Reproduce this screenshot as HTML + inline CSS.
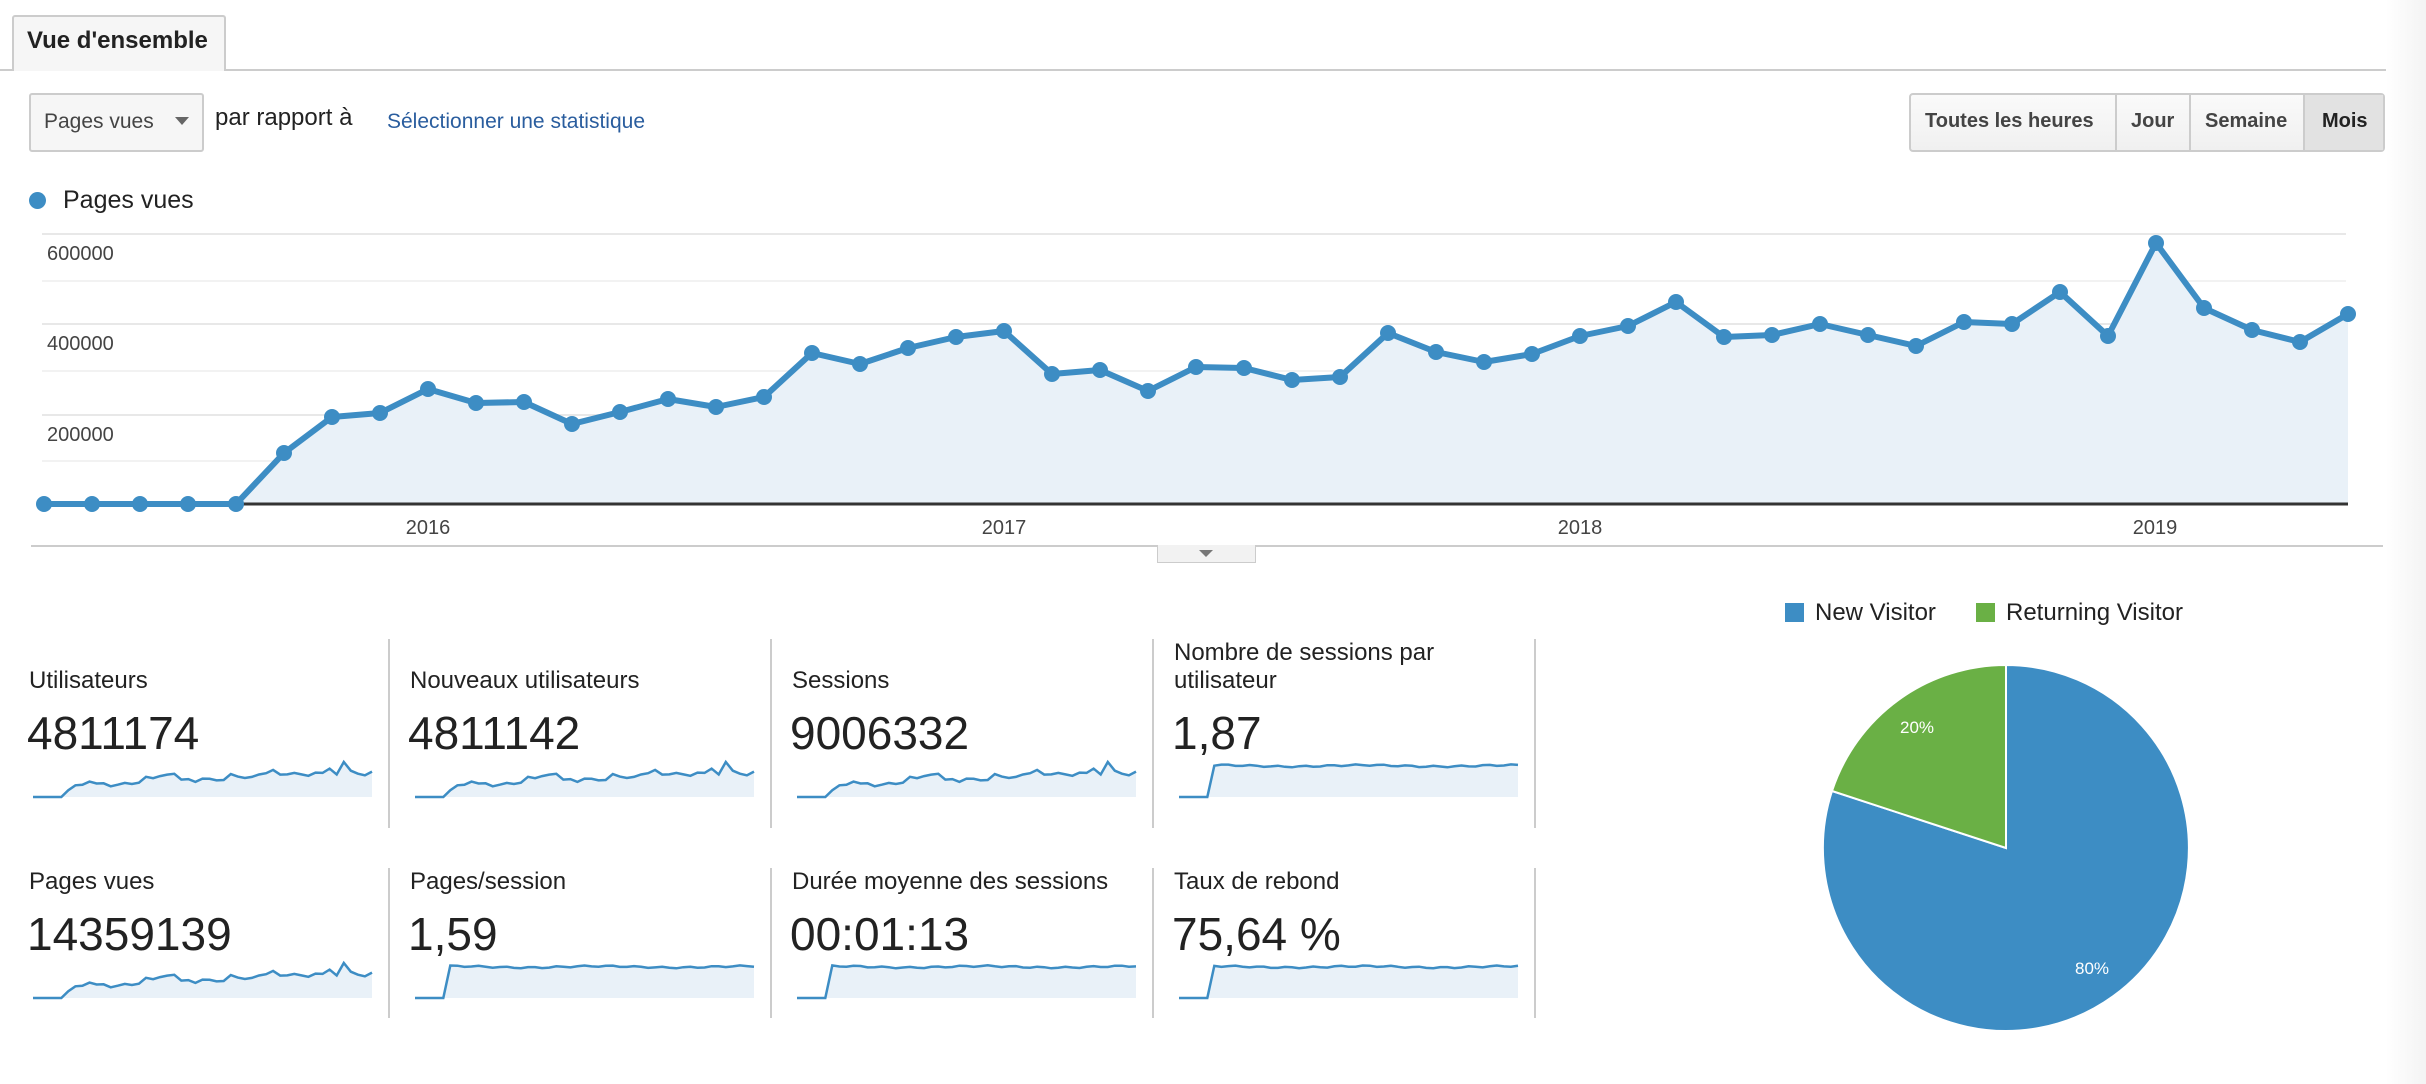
<!DOCTYPE html>
<html><head><meta charset="utf-8">
<style>
body{margin:0;width:2426px;height:1084px;background:#fff;font-family:"Liberation Sans",Arial,sans-serif;position:relative;overflow:hidden;color:#222}
.a{position:absolute;white-space:nowrap}
.lbl{font-size:24px;color:#222}
.num{font-size:46px;color:#222}
.div{position:absolute;width:2px;background:#ccc}
</style></head><body>
<div class="a" style="left:0;top:69px;width:2426px;height:2px;background:#ccc"></div>
<div class="a" style="left:12px;top:15px;width:214px;height:56px;background:#f6f6f6;border:2px solid #ccc;border-bottom:none;border-radius:3px 3px 0 0;box-sizing:border-box"></div>
<div class="a" style="left:27px;top:27px;font-size:24px;font-weight:bold;color:#222">Vue d'ensemble</div>

<div class="a" style="left:29px;top:93px;width:175px;height:59px;border:2px solid #ccc;border-radius:3px;background:#f6f6f6;box-sizing:border-box"></div>
<div class="a" style="left:44px;top:110px;font-size:21px;color:#444">Pages vues</div>
<div class="a" style="left:175px;top:117px;width:0;height:0;border-left:7px solid transparent;border-right:7px solid transparent;border-top:8px solid #666"></div>
<div class="a" style="left:215px;top:104px;font-size:24px;color:#222">par rapport à</div>
<div class="a" style="left:387px;top:110px;font-size:21px;color:#2a5d9e">Sélectionner une statistique</div>

<div class="a" style="left:1909px;top:93px;width:476px;height:59px;border:2px solid #ccc;border-radius:4px;background:linear-gradient(#fafafa,#f0f0f0);box-sizing:border-box"></div>
<div class="a" style="left:2305px;top:95px;width:78px;height:55px;background:#e2e2e2"></div>
<div class="a" style="left:2115px;top:95px;width:2px;height:55px;background:#ccc"></div>
<div class="a" style="left:2189px;top:95px;width:2px;height:55px;background:#ccc"></div>
<div class="a" style="left:2303px;top:95px;width:2px;height:55px;background:#ccc"></div>
<div class="a" style="left:1925px;top:110px;font-size:20px;font-weight:bold;color:#444">Toutes les heures</div>
<div class="a" style="left:2131px;top:110px;font-size:20px;font-weight:bold;color:#444">Jour</div>
<div class="a" style="left:2205px;top:110px;font-size:20px;font-weight:bold;color:#444">Semaine</div>
<div class="a" style="left:2322px;top:110px;font-size:20px;font-weight:bold;color:#222">Mois</div>

<div class="a" style="left:29px;top:192px;width:17px;height:17px;border-radius:50%;background:#3d8dc4"></div>
<div class="a" style="left:63px;top:186px;font-size:25px;color:#222">Pages vues</div>

<svg class="a" style="left:0;top:0" width="2426" height="1084" id="main"></svg>

<div class="a" style="left:31px;top:545px;width:2352px;height:2px;background:#ccc"></div>
<div class="a" style="left:1157px;top:545px;width:99px;height:18px;background:#f2f2f2;border:1px solid #ccc;border-top:none;box-sizing:border-box"></div>
<div class="a" style="left:1199px;top:550px;width:0;height:0;border-left:7px solid transparent;border-right:7px solid transparent;border-top:7px solid #777"></div>
<div class="a" style="left:2386px;top:0;width:40px;height:1084px;background:linear-gradient(90deg,#fff,#f3f3f3)"></div>

<div class="a lbl" style="left:29px;top:667px">Utilisateurs</div>
<div class="a num" style="left:27px;top:706px">4811174</div>
<div class="a lbl" style="left:410px;top:667px">Nouveaux utilisateurs</div>
<div class="a num" style="left:408px;top:706px">4811142</div>
<div class="a lbl" style="left:792px;top:667px">Sessions</div>
<div class="a num" style="left:790px;top:706px">9006332</div>
<div class="a lbl" style="left:1174px;top:639px;line-height:28px">Nombre de sessions par<br>utilisateur</div>
<div class="a num" style="left:1172px;top:706px">1,87</div>

<div class="a lbl" style="left:29px;top:868px">Pages vues</div>
<div class="a num" style="left:27px;top:907px">14359139</div>
<div class="a lbl" style="left:410px;top:868px">Pages/session</div>
<div class="a num" style="left:408px;top:907px">1,59</div>
<div class="a lbl" style="left:792px;top:868px">Durée moyenne des sessions</div>
<div class="a num" style="left:790px;top:907px">00:01:13</div>
<div class="a lbl" style="left:1174px;top:868px">Taux de rebond</div>
<div class="a num" style="left:1172px;top:907px">75,64 %</div>

<div class="div" style="left:388px;top:639px;height:189px"></div>
<div class="div" style="left:770px;top:639px;height:189px"></div>
<div class="div" style="left:1152px;top:639px;height:189px"></div>
<div class="div" style="left:1534px;top:639px;height:189px"></div>
<div class="div" style="left:388px;top:868px;height:150px"></div>
<div class="div" style="left:770px;top:868px;height:150px"></div>
<div class="div" style="left:1152px;top:868px;height:150px"></div>
<div class="div" style="left:1534px;top:868px;height:150px"></div>

<div class="a" style="left:1785px;top:603px;width:19px;height:19px;background:#3d8dc4"></div>
<div class="a" style="left:1815px;top:599px;font-size:24px">New Visitor</div>
<div class="a" style="left:1976px;top:603px;width:19px;height:19px;background:#6ab045"></div>
<div class="a" style="left:2006px;top:599px;font-size:24px">Returning Visitor</div>

<svg class="a" style="left:0;top:0" width="2426" height="1084">
<path d="M2006,848 L2006,665 A183,183 0 1,1 1832,791 Z" fill="#3d8dc4" stroke="#fff" stroke-width="2"/>
<path d="M2006,848 L1832,791 A183,183 0 0,1 2006,665 Z" fill="#6ab045" stroke="#fff" stroke-width="2"/>
<text x="1917" y="733" font-size="17" fill="#fff" text-anchor="middle" font-family="Liberation Sans">20%</text>
<text x="2092" y="974" font-size="17" fill="#fff" text-anchor="middle" font-family="Liberation Sans">80%</text>
</svg>
<svg class="a" style="left:0;top:0" width="2426" height="1084" id="spk"></svg>

<script>
var Y=[504,504,504,504,504,453,417,413,389,403,402,424,412,399,407,397,353,364,348,337,331,374,370,391,367,368,380,377,333,352,362,354,336,326,302,337,335,324,335,346,322,324,292,336,243,308,330,342,314];
var s='';
[[234,'600000'],[324,'400000'],[415,'200000']].forEach(function(g){s+='<line x1="42" x2="2346" y1="'+g[0]+'" y2="'+g[0]+'" stroke="#e8e8e8" stroke-width="2"/><text x="47" y="'+(g[0]+26)+'" font-size="20" fill="#444" font-family="Liberation Sans">'+g[1]+'</text>';});
[281,371,461].forEach(function(y){s+='<line x1="42" x2="2346" y1="'+y+'" y2="'+y+'" stroke="#f2f2f2" stroke-width="2"/>';});
var pts=Y.map(function(y,i){return (44+48*i)+','+y;}).join(' ');
s+='<polygon points="44,504 '+pts+' 2348,504" fill="#e9f1f8"/>';
s+='<line x1="42" x2="2348" y1="504" y2="504" stroke="#333" stroke-width="3"/>';
s+='<polyline points="'+pts+'" fill="none" stroke="#3d8dc4" stroke-width="6" stroke-linejoin="round"/>';
Y.forEach(function(y,i){s+='<circle cx="'+(44+48*i)+'" cy="'+y+'" r="8" fill="#3d8dc4"/>';});
[[428,'2016'],[1004,'2017'],[1580,'2018'],[2155,'2019']].forEach(function(t){s+='<text x="'+t[0]+'" y="534" font-size="20" fill="#444" text-anchor="middle" font-family="Liberation Sans">'+t[1]+'</text>';});
document.getElementById('main').innerHTML=s;

function spark(x0,bot,flat,seed){
  var w=339,n=Y.length,p=[],r='';
  for(var i=0;i<n;i++){
    var v;
    if(flat){v=i<5?0:0.82+0.04*Math.sin(i*1.7+seed)*0.5+0.02*Math.sin(i*0.3);}
    else v=(504-Y[i])/261*0.92;
    p.push((x0+w*i/(n-1)).toFixed(1)+','+(bot-v*38).toFixed(1));
  }
  r+='<polygon points="'+x0+','+bot+' '+p.join(' ')+' '+(x0+w)+','+bot+'" fill="#e9f1f8"/>';
  r+='<polyline points="'+p.join(' ')+'" fill="none" stroke="#3d8dc4" stroke-width="2.5"/>';
  return r;
}
var t='';
t+=spark(33,797,false,0)+spark(415,797,false,1)+spark(797,797,false,2)+spark(1179,797,true,3);
t+=spark(33,998,false,4)+spark(415,998,true,5)+spark(797,998,true,6)+spark(1179,998,true,7);
document.getElementById('spk').innerHTML=t;
</script>
</body></html>
